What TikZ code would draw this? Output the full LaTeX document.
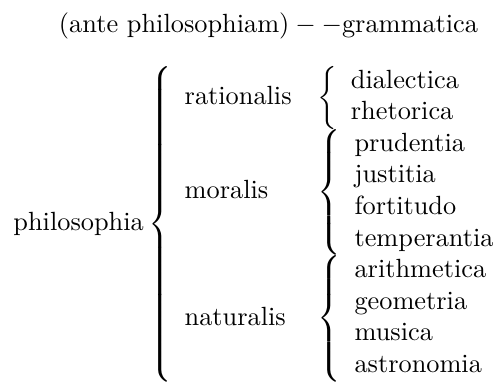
\documentclass[tikz,border=0pt]{standalone}
\usepackage{amsmath}
\usepackage{tikz}
\usetikzlibrary{positioning, calc}

\newcommand{\branchlist}[1]{$\left\{\begin{array}{l}#1\end{array}\right.$}

\begin{document}
\begin{tikzpicture}[
    x=0.38pt, y=-0.38pt,
    every node/.style={inner sep=0pt, outer sep=0pt},
    list/.style={anchor=north west},
    part/.style={anchor=base west}
]
\useasboundingbox (0,0) rectangle (498,384);
\node[part] (title) at (59,32) {$(\text{ante philosophiam}) - -\text{grammatica}$};
% lists of the arts
\node[list] (l1) at (318,66) {\branchlist{\text{dialectica}\\ \text{rhetorica}}};
\node (l2) [below=0pt of l1.south west, list] {\branchlist{\text{prudentia}\\ \text{justitia}\\ \text{fortitudo}\\ \text{temperantia}}};
\node (l3) [below=0pt of l2.south west, list] {\branchlist{\text{arithmetica}\\ \text{geometria}\\ \text{musica}\\ \text{astronomia}}};
% the three parts
\node (rat) [left=10pt of l1.base west, anchor=base east] {rationalis};
\node[part] (mor) at (rat.west |- l2.base) {moralis};
\node[part] (nat) at (rat.west |- l3.base) {naturalis};
% big brace and root
\coordinate (mid) at ($(l1.north)!0.5!(l3.south)$);
\coordinate (bx) at ([xshift=-3.8pt]rat.west);
\path let \p1 = ($(l1.north)-(l3.south)$) in
  node[anchor=east] (bigbrace) at (bx |- mid) {$\left\{\vcenter{\hrule height \y1 width 0pt}\right.$};
\node[anchor=base east] (phil) at ([xshift=-1.67pt, yshift=-2.5pt]bigbrace.west) {philosophia};
\end{tikzpicture}
\end{document}
